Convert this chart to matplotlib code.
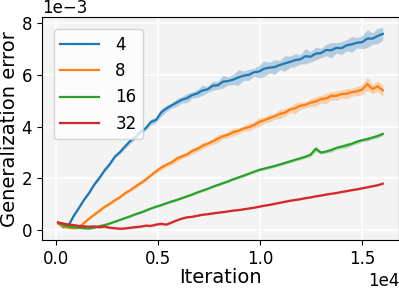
import numpy as np
import matplotlib.pyplot as plt

# iterations grid (64 evenly spaced checkpoints)
iterations = np.linspace(100, 16000, 64)

labels = ['4', '8', '16', '32']
xticks = [0, 5000, 10000, 15000]
yticks = [0, 2e-3, 4e-3, 6e-3, 8e-3]

# mean generalization error (x1e-3)
err_4 = [0.30, 0.12, 0.18, 0.55, 0.85, 1.17, 1.44, 1.76, 2.02, 2.31, 2.55, 2.84, 3.02, 3.24, 3.45, 3.60,
         3.80, 3.94, 4.18, 4.26, 4.55, 4.70, 4.82, 4.93, 5.04, 5.10, 5.22, 5.28, 5.40, 5.44, 5.58, 5.60,
         5.74, 5.76, 5.82, 5.90, 5.97, 6.00, 6.10, 6.13, 6.24, 6.28, 6.30, 6.38, 6.44, 6.50, 6.57, 6.60,
         6.72, 6.70, 6.82, 6.84, 6.96, 6.95, 7.04, 7.03, 7.14, 7.18, 7.24, 7.26, 7.40, 7.40, 7.50, 7.58]
err_8 = [0.25, 0.15, 0.10, 0.08, 0.10, 0.28, 0.45, 0.60, 0.75, 0.90, 1.02, 1.16, 1.28, 1.43, 1.55, 1.69,
         1.82, 1.96, 2.12, 2.28, 2.42, 2.53, 2.62, 2.76, 2.85, 2.93, 3.06, 3.14, 3.26, 3.34, 3.43, 3.54,
         3.63, 3.69, 3.79, 3.84, 3.93, 3.98, 4.06, 4.18, 4.25, 4.33, 4.40, 4.49, 4.54, 4.66, 4.71, 4.81,
         4.84, 4.93, 4.97, 5.06, 5.09, 5.19, 5.19, 5.26, 5.27, 5.33, 5.37, 5.43, 5.65, 5.45, 5.56, 5.40]
err_16 = [0.30, 0.20, 0.15, 0.12, 0.10, 0.08, 0.07, 0.10, 0.16, 0.20, 0.26, 0.33, 0.40, 0.47, 0.54, 0.62,
          0.68, 0.76, 0.84, 0.91, 0.97, 1.04, 1.11, 1.17, 1.24, 1.31, 1.38, 1.46, 1.53, 1.60, 1.68, 1.75,
          1.82, 1.89, 1.97, 2.04, 2.11, 2.18, 2.26, 2.33, 2.38, 2.43, 2.48, 2.54, 2.60, 2.66, 2.72, 2.78,
          2.84, 2.92, 3.15, 3.00, 3.04, 3.10, 3.18, 3.23, 3.28, 3.34, 3.42, 3.48, 3.52, 3.58, 3.64, 3.72]
err_32 = [0.30, 0.26, 0.22, 0.20, 0.17, 0.15, 0.14, 0.15, 0.12, 0.14, 0.10, 0.08, 0.06, 0.07, 0.10, 0.12,
          0.14, 0.18, 0.17, 0.22, 0.25, 0.22, 0.30, 0.38, 0.45, 0.50, 0.52, 0.56, 0.60, 0.62, 0.65, 0.68,
          0.70, 0.73, 0.76, 0.78, 0.81, 0.84, 0.87, 0.91, 0.95, 0.98, 1.02, 1.06, 1.10, 1.14, 1.17, 1.20,
          1.24, 1.27, 1.31, 1.34, 1.38, 1.41, 1.44, 1.48, 1.51, 1.55, 1.58, 1.62, 1.66, 1.70, 1.74, 1.80]

# spread of the shaded band (x1e-3)
spread_4 = [0.05, 0.05, 0.05, 0.05, 0.05, 0.05, 0.06, 0.06, 0.06, 0.06, 0.08, 0.06, 0.08, 0.08, 0.10, 0.08,
            0.10, 0.08, 0.12, 0.10, 0.15, 0.12, 0.10, 0.15, 0.12, 0.18, 0.12, 0.15, 0.20, 0.12, 0.18, 0.15,
            0.25, 0.15, 0.20, 0.30, 0.18, 0.22, 0.15, 0.25, 0.30, 0.20, 0.28, 0.18, 0.30, 0.22, 0.25, 0.18,
            0.30, 0.20, 0.25, 0.18, 0.22, 0.30, 0.20, 0.25, 0.22, 0.30, 0.20, 0.25, 0.35, 0.22, 0.30, 0.25]
spread_8 = [0.05, 0.04, 0.04, 0.04, 0.04, 0.04, 0.04, 0.04, 0.05, 0.05, 0.05, 0.06, 0.05, 0.06, 0.06, 0.08,
            0.06, 0.08, 0.06, 0.08, 0.10, 0.08, 0.10, 0.12, 0.08, 0.10, 0.12, 0.10, 0.12, 0.10, 0.12, 0.15,
            0.10, 0.12, 0.15, 0.12, 0.10, 0.15, 0.12, 0.18, 0.12, 0.15, 0.12, 0.18, 0.15, 0.12, 0.20, 0.15,
            0.12, 0.15, 0.18, 0.15, 0.20, 0.15, 0.18, 0.15, 0.20, 0.15, 0.18, 0.20, 0.25, 0.18, 0.20, 0.22]
spread_16 = [0.05, 0.04, 0.04, 0.03, 0.03, 0.03, 0.03, 0.03, 0.03, 0.03, 0.03, 0.03, 0.03, 0.03, 0.03, 0.04,
             0.03, 0.04, 0.03, 0.04, 0.04, 0.03, 0.04, 0.04, 0.04, 0.04, 0.05, 0.04, 0.04, 0.05, 0.04, 0.05,
             0.04, 0.05, 0.04, 0.05, 0.05, 0.04, 0.05, 0.05, 0.05, 0.06, 0.05, 0.06, 0.05, 0.06, 0.05, 0.06,
             0.06, 0.08, 0.10, 0.06, 0.06, 0.08, 0.06, 0.08, 0.10, 0.06, 0.08, 0.06, 0.08, 0.06, 0.08, 0.06]
spread_32 = [0.06, 0.05, 0.05, 0.05, 0.05, 0.05, 0.04, 0.05, 0.04, 0.05, 0.04, 0.04, 0.04, 0.04, 0.05, 0.04,
             0.04, 0.05, 0.04, 0.04, 0.05, 0.04, 0.04, 0.03, 0.03, 0.03, 0.03, 0.03, 0.03, 0.03, 0.03, 0.03,
             0.03, 0.03, 0.03, 0.03, 0.03, 0.03, 0.03, 0.03, 0.03, 0.03, 0.03, 0.03, 0.03, 0.03, 0.03, 0.03,
             0.03, 0.03, 0.03, 0.03, 0.03, 0.03, 0.03, 0.03, 0.03, 0.03, 0.03, 0.03, 0.03, 0.03, 0.03, 0.03]

means = [err_4, err_8, err_16, err_32]
spreads = [spread_4, spread_8, spread_16, spread_32]
colors = ['tab:blue', 'tab:orange', 'tab:green', 'tab:red']

fig = plt.figure(figsize=(3.99, 2.89), dpi=100)
ax = fig.add_axes([0.105, 0.17, 0.895, 0.77])
ax.set_facecolor('#f3f3f3')
ax.grid(True, color='white', linewidth=1.2)
ax.set_axisbelow(True)

for m, s, c, lab in zip(means, spreads, colors, labels):
    m = np.array(m) * 1e-3
    s = np.array(s) * 1e-3
    ax.fill_between(iterations, m - s, m + s, color=c, alpha=0.3, linewidth=0)
    ax.plot(iterations, m, color=c, linewidth=1.6, label=lab)

ax.set_xticks(xticks)
ax.set_yticks(yticks)
ax.ticklabel_format(style='sci', axis='both', scilimits=(0, 0))
ax.tick_params(labelsize=12)
ax.xaxis.get_offset_text().set_fontsize(12)
ax.yaxis.get_offset_text().set_fontsize(12)
ax.set_xlabel('Iteration', fontsize=14, labelpad=0)
ax.set_ylabel('Generalization error', fontsize=14, labelpad=2)
ax.legend(loc='upper left', fontsize=12, handlelength=2.3, handletextpad=1.0,
          borderaxespad=0.7)

fig.savefig('out.png', dpi=100)
